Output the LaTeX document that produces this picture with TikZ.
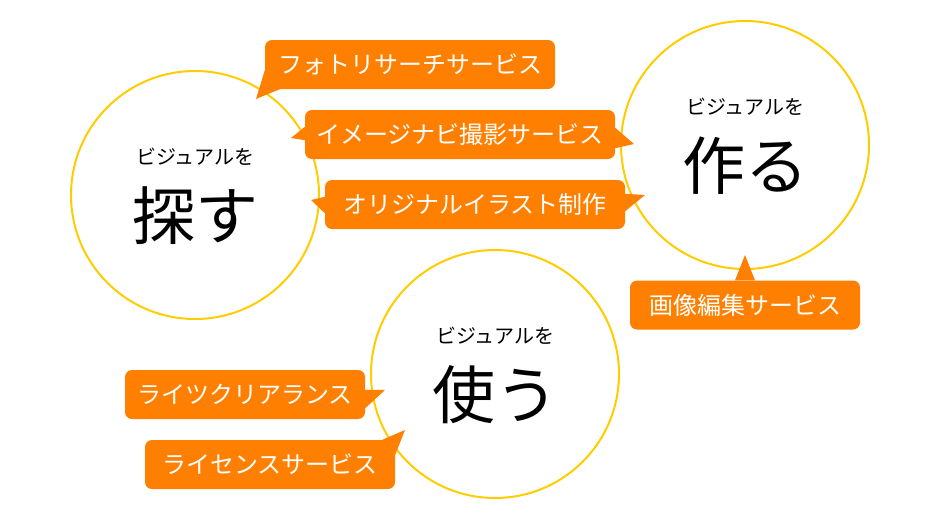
\documentclass[tikz,border=0pt]{standalone}
\usepackage{fontspec}
\setmainfont{Noto Sans CJK JP}
\usetikzlibrary{positioning}

\definecolor{ringyellow}{RGB}{255,204,0}
\definecolor{tagorange}{RGB}{255,128,0}

\begin{document}
\begin{tikzpicture}[x=1pt, y=-1pt,
    ring/.style={draw=ringyellow, line width=2pt, circle, minimum size=248pt, inner sep=0pt},
    svc/.style={fill=tagorange, text=white, rounded corners=7pt, minimum height=49pt,
      inner sep=0pt, font=\fontsize{24}{24}\selectfont}]
  \useasboundingbox (0,0) rectangle (940,520);
  % three circles
  \foreach \i/\x/\y/\w in {0/195/195/探す, 1/745/145/作る, 2/495/374/使う} {
    \node[ring] (circ\i) at (\x,\y) {};
    \node[font=\fontsize{20}{20}\selectfont] (lead\i) at (\x,\y-38) {ビジュアルを};
    \node[font=\fontsize{63}{63}\selectfont] (word\i) at (\x,\y+21) {\w};
  }
  % service boxes
  \foreach \i/\x/\y/\bw/\t in {0/410/64.5/290/フォトリサーチサービス,
      1/460/134.5/310/イメージナビ撮影サービス,
      2/475/204.5/300/オリジナルイラスト制作,
      3/745/305/230/画像編集サービス,
      4/245/394.5/240/ライツクリアランス,
      5/270/464.5/250/ライセンスサービス} {
    \node[svc, minimum width=\bw pt] (box\i) at (\x,\y) {\t};
  }
  % pointers
  \coordinate (tip0) at (256,99);
  \coordinate (tip1l) at (291,138);
  \coordinate (tip1r) at (634,144);
  \coordinate (tip2l) at (311,200);
  \coordinate (tip2r) at (645,195);
  \coordinate (tip3) at (745,255);
  \coordinate (tip4) at (385,390);
  \coordinate (tip5) at (405,430);
  \fill[tagorange] ([yshift=19pt]box0.south west) -- (tip0) -- ([xshift=15pt]box0.south west) -- cycle;
  \fill[tagorange] ([yshift=-17pt]box1.north west) -- (tip1l) -- ([yshift=19pt]box1.south west) -- cycle;
  \fill[tagorange] ([yshift=-18pt]box1.north east) -- (tip1r) -- ([yshift=11pt]box1.south east) -- cycle;
  \fill[tagorange] ([yshift=-17pt]box2.north west) -- (tip2l) -- ([yshift=16pt]box2.south west) -- cycle;
  \fill[tagorange] ([yshift=-14pt]box2.north east) -- (tip2r) -- ([yshift=18pt]box2.south east) -- cycle;
  \fill[tagorange] ([xshift=-10pt]box3.north) -- (tip3) -- ([xshift=10pt]box3.north) -- cycle;
  \fill[tagorange] ([yshift=-20pt]box4.north east) -- (tip4) -- ([yshift=11pt]box4.south east) -- cycle;
  \fill[tagorange] ([xshift=-13pt]box5.north east) -- (tip5) -- ([yshift=-15pt]box5.north east) -- cycle;
\end{tikzpicture}
\end{document}
